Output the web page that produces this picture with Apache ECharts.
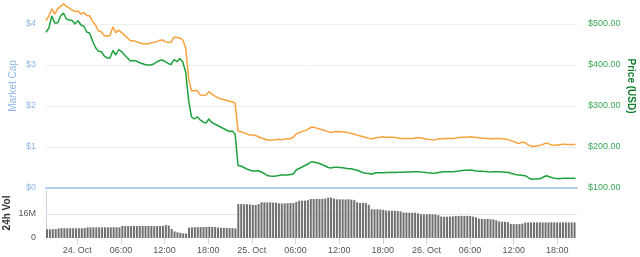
<!DOCTYPE html>
<html><head><meta charset="utf-8">
<script src="https://cdn.jsdelivr.net/npm/echarts@6/dist/echarts.min.js"></script>
<style>html,body{margin:0;padding:0;background:#fff}#c{width:640px;height:257px}</style>
</head><body><div id="c"></div>
<script>
// Time series: 24-minute steps starting 23 Oct 19:42
const startTime = new Date(2017, 9, 23, 19, 42).getTime();
const stepMinutes = 24;
const axisMin = new Date(2017, 9, 23, 19, 42).getTime();
const axisMax = new Date(2017, 9, 26, 20, 42).getTime();
const labelStepMinutes = 6;   // resolution of the label axis
const labelEveryHours = 6;    // a tick label every 6 hours

// Market cap (billions USD)
const marketCap = [4.08,4.20,4.37,4.24,4.37,4.43,4.49,4.43,4.39,4.34,
4.30,4.32,4.24,4.28,4.21,4.20,4.06,3.98,3.83,3.81,
3.72,3.70,3.72,3.93,3.79,3.85,3.79,3.73,3.66,3.59,
3.59,3.57,3.55,3.52,3.52,3.51,3.54,3.55,3.57,3.60,
3.61,3.57,3.55,3.56,3.68,3.67,3.66,3.61,3.42,2.68,
2.37,2.38,2.37,2.27,2.26,2.27,2.35,2.29,2.24,2.21,
2.17,2.16,2.14,2.11,2.11,2.07,1.39,1.37,1.35,1.32,
1.29,1.29,1.28,1.25,1.22,1.20,1.17,1.17,1.17,1.18,
1.19,1.18,1.19,1.20,1.20,1.24,1.32,1.35,1.38,1.40,
1.43,1.48,1.48,1.46,1.44,1.42,1.40,1.37,1.35,1.37,
1.38,1.37,1.37,1.36,1.35,1.33,1.31,1.29,1.27,1.25,
1.23,1.21,1.20,1.22,1.23,1.24,1.25,1.24,1.24,1.24,
1.23,1.22,1.21,1.21,1.21,1.21,1.21,1.22,1.23,1.22,
1.20,1.19,1.18,1.17,1.18,1.20,1.20,1.21,1.21,1.21,
1.21,1.22,1.23,1.24,1.24,1.24,1.25,1.24,1.23,1.22,
1.22,1.21,1.21,1.20,1.21,1.21,1.21,1.20,1.19,1.18,
1.15,1.13,1.09,1.10,1.12,1.09,1.04,1.02,1.02,1.03,
1.04,1.07,1.10,1.07,1.05,1.04,1.05,1.06,1.07,1.06,
1.06,1.06,1.06];

// Price (USD)
const priceUSD = [479.8,490.2,519.5,502.4,502.4,519.5,526.8,512.2,509.8,508.5,
500.0,508.0,497.6,495.1,480.5,477.3,458.5,442.7,434.1,432.4,
422.0,417.1,417.1,435.4,424.4,437.8,432.9,424.4,417.1,409.8,
411.0,409.8,406.1,403.7,401.2,400.0,400.0,402.4,407.3,411.0,
412.2,408.0,403.7,401.2,413.4,408.0,415.9,407.3,382.9,314.6,
273.2,268.3,273.2,265.9,261.0,258.5,268.3,259.3,256.1,252.4,
248.8,245.1,241.5,237.8,239.0,231.7,154.9,153.7,150.0,146.3,
143.9,141.5,141.5,142.2,139.0,135.4,130.5,129.3,128.5,129.3,
130.5,131.7,131.7,131.7,132.9,134.1,143.9,147.6,151.2,154.9,
158.5,163.4,163.4,161.7,159.8,156.8,153.7,150.0,148.8,150.5,
150.5,150.0,149.5,148.0,147.1,146.8,144.6,143.2,140.2,137.3,
136.1,135.4,133.4,136.6,137.3,137.3,137.3,137.8,137.8,138.3,
137.8,138.3,138.3,138.5,139.0,139.0,139.5,139.8,139.8,139.0,
138.3,137.3,136.6,135.9,136.6,137.8,139.0,139.5,139.8,139.8,
139.8,140.7,141.5,142.7,143.2,143.2,143.9,142.7,141.5,141.0,
140.7,140.2,139.5,139.0,139.5,139.8,139.5,139.0,138.5,137.6,
135.4,133.4,132.0,131.7,130.5,129.3,123.9,121.2,122.0,122.4,
122.7,126.8,130.0,127.6,125.1,123.7,122.7,123.2,123.7,123.7,
123.7,123.7,123.7];

// 24h Volume (millions USD)
const volume24h = [5.8,5.8,5.9,5.9,6.4,6.5,6.5,6.5,6.5,6.5,
6.5,6.5,6.5,6.6,7.1,7.1,7.1,7.1,7.1,7.1,
7.1,7.1,7.1,7.2,7.1,7.1,8.0,8.0,8.0,8.0,
8.0,8.0,8.0,8.0,8.0,8.0,8.0,8.0,8.0,8.0,
8.1,8.6,8.3,6.0,4.4,3.8,3.4,3.1,3.0,6.9,
7.1,7.2,7.3,7.3,7.3,7.4,7.5,7.4,7.3,7.0,
6.8,6.8,6.7,6.6,6.5,6.4,22.6,22.7,22.5,22.5,
22.4,22.1,22.0,22.6,23.8,23.8,23.7,23.8,23.6,23.5,
23.1,23.0,23.1,23.2,23.3,23.3,24.0,24.9,24.9,24.9,
25.2,26.0,26.0,26.1,26.0,26.1,26.2,26.8,26.9,26.3,
25.8,25.8,25.8,25.7,25.8,25.6,25.2,23.8,23.3,23.4,
23.3,22.2,19.2,19.1,19.1,19.0,18.8,18.3,18.2,18.2,
18.1,18.0,17.7,17.0,16.9,16.9,16.8,16.9,16.4,15.8,
15.8,15.8,15.9,15.8,15.7,15.2,14.3,14.2,14.2,14.3,
14.4,14.7,14.7,14.8,14.7,14.8,14.6,14.3,13.8,12.9,
12.7,12.6,12.7,12.5,12.4,11.8,11.0,10.9,10.8,10.6,
9.4,9.3,9.2,9.3,9.6,10.3,10.4,10.4,10.5,10.4,
10.4,10.3,10.4,10.4,10.5,10.4,10.4,10.3,10.4,10.4,
10.4,10.4,10.4];

// Axis ticks
const capTicks = {min: 0, max: 4, interval: 1};
const priceTicks = {min: 100, max: 500, interval: 100};
const volTicks = {min: 0, max: 32, interval: 16};

const times = marketCap.map((_, i) => startTime + i * stepMinutes * 60000);
const pair = arr => arr.map((v, i) => [times[i], v]);

// label axis categories (one every 6 minutes across the shown range)
const labelCats = [];
for (let t = axisMin; t <= axisMax; t += labelStepMinutes * 60000) labelCats.push(String(t));

function pad(n){return (n<10?'0':'')+n;}
function isLabelTime(val){
  const d = new Date(+val);
  return d.getMinutes() === 0 && d.getHours() % labelEveryHours === 0;
}
function timeLabel(val){
  const d = new Date(+val);
  if (d.getHours() === 0 && d.getMinutes() === 0) return d.getDate() + '. Oct';
  return pad(d.getHours()) + ':' + pad(d.getMinutes());
}

const FONT = 'Liberation Sans';
const chart = echarts.init(document.getElementById('c'), null, {renderer: 'canvas'});
chart.setOption({
  animation: false,
  grid: [
    {left: 46, right: 63, top: 24, height: 164},
    {left: 46, right: 63, top: 190, height: 48}
  ],
  xAxis: [
    {type: 'time', gridIndex: 0, min: axisMin, max: axisMax,
     axisLine: {show: true, lineStyle: {color: '#b3cdec', width: 2}},
     axisTick: {show: false}, axisLabel: {show: false}, splitLine: {show: false}},
    {type: 'time', gridIndex: 1, min: axisMin, max: axisMax,
     axisLine: {show: false}, axisTick: {show: false}, axisLabel: {show: false}, splitLine: {show: false}},
    {type: 'category', gridIndex: 1, data: labelCats, boundaryGap: false, position: 'bottom',
     axisLine: {show: false},
     axisTick: {show: true, length: 6, interval: (i, v) => isLabelTime(v), lineStyle: {color: '#ccd6eb'}},
     axisLabel: {show: true, interval: (i, v) => isLabelTime(v), formatter: timeLabel,
                 color: '#555', fontSize: 9, fontFamily: FONT, margin: 8},
     splitLine: {show: false}}
  ],
  yAxis: [
    {type: 'value', gridIndex: 0, position: 'left', min: capTicks.min, max: capTicks.max, interval: capTicks.interval,
     axisLine: {show: false}, axisTick: {show: false},
     axisLabel: {formatter: v => '$' + v, color: '#8db6e6', fontSize: 9, fontFamily: FONT, margin: 10,
                 padding: [0, 0, 7, 0]},
     splitLine: {show: true, lineStyle: {color: '#eeeeee', width: 1}, showMinLine: false}},
    {type: 'value', gridIndex: 0, position: 'right', min: priceTicks.min, max: priceTicks.max, interval: priceTicks.interval,
     axisLine: {show: false}, axisTick: {show: false},
     axisLabel: {formatter: v => '$' + v.toFixed(2), color: '#3aa757', fontSize: 9, fontFamily: FONT, margin: 11,
                 padding: [0, 0, 7, 0]},
     splitLine: {show: false}},
    {type: 'value', gridIndex: 1, position: 'left', min: volTicks.min, max: volTicks.max, interval: volTicks.interval,
     axisLine: {show: true, lineStyle: {color: '#c6d6ea', width: 1}}, axisTick: {show: false},
     axisLabel: {formatter: v => v === 0 ? '0' : v + 'M', color: '#555', fontSize: 9, fontFamily: FONT, margin: 10,
                 padding: [0, 0, 5, 0], showMaxLabel: false},
     splitLine: {show: true, lineStyle: {color: '#e6e6e6', width: 1}, showMinLine: false, showMaxLine: false}}
  ],
  series: [
    {type: 'line', name: 'Market Cap', xAxisIndex: 0, yAxisIndex: 0, data: pair(marketCap),
     showSymbol: false, clip: false, lineStyle: {color: '#f7a23c', width: 1.5}, itemStyle: {color: '#f7a23c'}},
    {type: 'line', name: 'Price (USD)', xAxisIndex: 0, yAxisIndex: 1, data: pair(priceUSD),
     showSymbol: false, clip: false, lineStyle: {color: '#1ea23f', width: 1.5}, itemStyle: {color: '#1ea23f'}},
    {type: 'bar', name: '24h Vol', xAxisIndex: 1, yAxisIndex: 2, data: pair(volume24h),
     barWidth: 2, itemStyle: {color: '#707070'}}
  ],
  graphic: [
    {type: 'text', x: 13, y: 86, rotation: Math.PI / 2,
     style: {text: 'Market Cap', fill: '#8db6e6', font: '10px ' + FONT, textAlign: 'center', textVerticalAlign: 'middle'}},
    {type: 'text', x: 631, y: 86, rotation: -Math.PI / 2,
     style: {text: 'Price (USD)', fill: '#0d7d2c', font: 'bold 10px ' + FONT, textAlign: 'center', textVerticalAlign: 'middle'}},
    {type: 'text', x: 7, y: 213, rotation: Math.PI / 2,
     style: {text: '24h Vol', fill: '#333', font: 'bold 10px ' + FONT, textAlign: 'center', textVerticalAlign: 'middle'}}
  ]
});
</script>
</body></html>
